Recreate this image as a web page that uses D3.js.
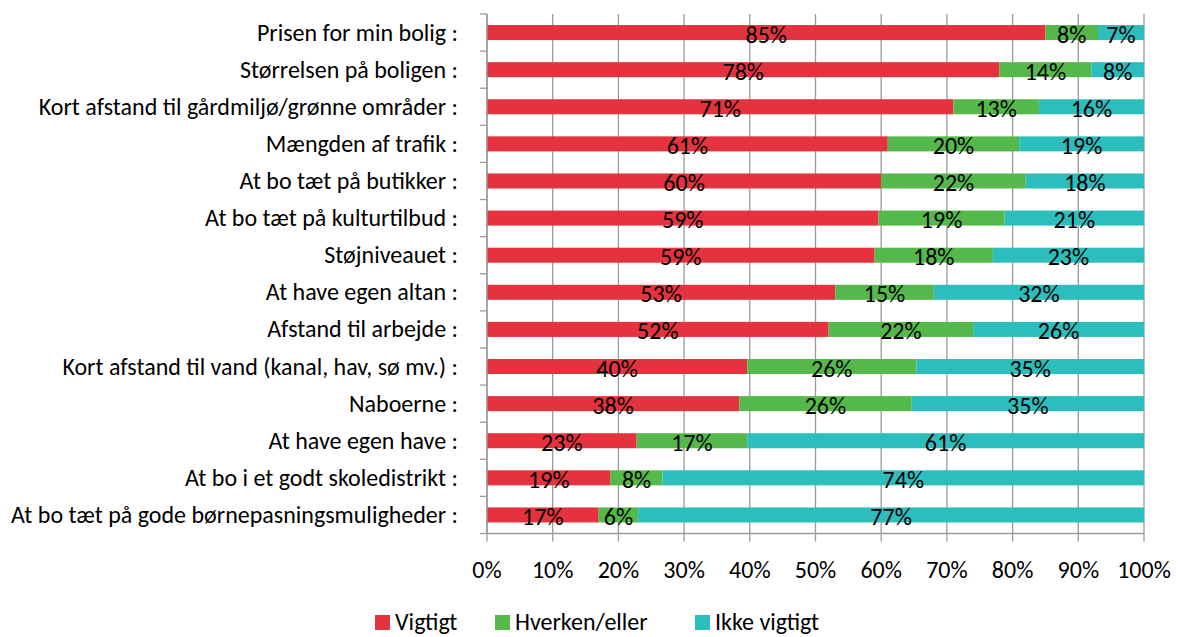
<!DOCTYPE html>
<html>
<head>
<meta charset="utf-8">
<script src="https://cdn.jsdelivr.net/npm/d3@7"></script>
<style>
  html, body { margin: 0; padding: 0; background: #fff; }
  svg { display: block; }
  text { font-family: Carlito, Calibri, Lato, "Open Sans", sans-serif; fill: #000; }
</style>
</head>
<body>
<svg id="chart" width="1178" height="637"></svg>
<script>
// Survey items, top to bottom
const categories = [
  "Prisen for min bolig :",
  "Størrelsen på boligen :",
  "Kort afstand til gårdmiljø/grønne områder :",
  "Mængden af trafik :",
  "At bo tæt på butikker :",
  "At bo tæt på kulturtilbud :",
  "Støjniveauet :",
  "At have egen altan :",
  "Afstand til arbejde :",
  "Kort afstand til vand (kanal, hav, sø mv.) :",
  "Naboerne :",
  "At have egen have :",
  "At bo i et godt skoledistrikt :",
  "At bo tæt på gode børnepasningsmuligheder :"
];

// Share of answers (%) per item
const vigtigt     = [85, 78, 71, 61, 60, 59, 59, 53, 52, 40, 38, 23, 19, 17];
const hverken     = [ 8, 14, 13, 20, 22, 19, 18, 15, 22, 26, 26, 17,  8,  6];
const ikkeVigtigt = [ 7,  8, 16, 19, 18, 21, 23, 32, 26, 35, 35, 61, 74, 77];

const seriesNames = ["Vigtigt", "Hverken/eller", "Ikke vigtigt"];
const seriesKeys  = ["vigtigt", "hverken", "ikke"];
const xTicks = [0, 0.1, 0.2, 0.3, 0.4, 0.5, 0.6, 0.7, 0.8, 0.9, 1];

const colors = { vigtigt: "#e4323f", hverken: "#54b84a", ikke: "#2cbdbd" };
const fontSize = "24px";

const rows = categories.map((c, i) => ({
  category: c, vigtigt: vigtigt[i], hverken: hverken[i], ikke: ikkeVigtigt[i]
}));

const svg = d3.select("#chart");
const plot = { left: 487, right: 1144, top: 14, bottom: 533.5 };

const x = d3.scaleLinear().domain([0, 1]).range([plot.left, plot.right]);
const y = d3.scaleBand().domain(categories).range([plot.top, plot.bottom])
  .paddingInner(0.595).paddingOuter(0.2975);

const stacked = d3.stack().keys(seriesKeys).offset(d3.stackOffsetExpand)(rows);

// vertical gridlines
svg.append("g").selectAll("line").data(xTicks).join("line")
  .attr("x1", d => x(d)).attr("x2", d => x(d))
  .attr("y1", plot.top).attr("y2", plot.bottom)
  .attr("stroke", "#9a9a9a").attr("stroke-width", 1.3);

// bars
const layer = svg.append("g").selectAll("g").data(stacked).join("g")
  .attr("fill", d => colors[d.key]);
layer.selectAll("rect").data(d => d).join("rect")
  .attr("x", d => x(d[0]))
  .attr("y", d => y(d.data.category))
  .attr("width", d => x(d[1]) - x(d[0]))
  .attr("height", y.bandwidth());

// value labels
const labels = svg.append("g");
stacked.forEach(s => {
  s.forEach(d => {
    labels.append("text")
      .attr("x", (x(d[0]) + x(d[1])) / 2)
      .attr("y", y(d.data.category) + y.bandwidth() / 2 + 10)
      .attr("text-anchor", "middle")
      .style("font-size", fontSize)
      .text(d.data[s.key] + "%");
  });
});

// y axis: line, band ticks, category labels
const yAxis = svg.append("g");
yAxis.append("line")
  .attr("x1", plot.left).attr("x2", plot.left)
  .attr("y1", plot.top).attr("y2", plot.bottom)
  .attr("stroke", "#9a9a9a").attr("stroke-width", 1.3);
const step = y.step();
yAxis.selectAll("line.tick").data(d3.range(categories.length + 1)).join("line")
  .attr("class", "tick")
  .attr("x1", plot.left - 7).attr("x2", plot.left)
  .attr("y1", i => plot.top + i * step).attr("y2", i => plot.top + i * step)
  .attr("stroke", "#9a9a9a").attr("stroke-width", 1.3);
yAxis.selectAll("text").data(categories).join("text")
  .attr("x", 458)
  .attr("y", d => y(d) + y.bandwidth() / 2 + 8)
  .attr("text-anchor", "end")
  .style("font-size", fontSize)
  .text(d => d);

// x axis
const xAxis = svg.append("g");
xAxis.append("line")
  .attr("x1", plot.left).attr("x2", plot.right)
  .attr("y1", plot.bottom).attr("y2", plot.bottom)
  .attr("stroke", "#9a9a9a").attr("stroke-width", 1.3);
xAxis.selectAll("line.tick").data(xTicks).join("line")
  .attr("class", "tick")
  .attr("x1", d => x(d)).attr("x2", d => x(d))
  .attr("y1", plot.bottom).attr("y2", plot.bottom + 8)
  .attr("stroke", "#9a9a9a").attr("stroke-width", 1.3);
xAxis.selectAll("text").data(xTicks).join("text")
  .attr("x", d => x(d))
  .attr("y", 578)
  .attr("text-anchor", "middle")
  .style("font-size", fontSize)
  .text(d => d3.format(".0%")(d));

// legend
const legendX = [375, 495, 695];
const legend = svg.append("g").selectAll("g").data(seriesKeys).join("g")
  .attr("transform", (d, i) => `translate(${legendX[i]},615)`);
legend.append("rect").attr("width", 15).attr("height", 15)
  .attr("fill", d => colors[d]);
legend.append("text").attr("x", 20).attr("y", 15)
  .style("font-size", fontSize)
  .text((d, i) => seriesNames[i]);
</script>
</body>
</html>
